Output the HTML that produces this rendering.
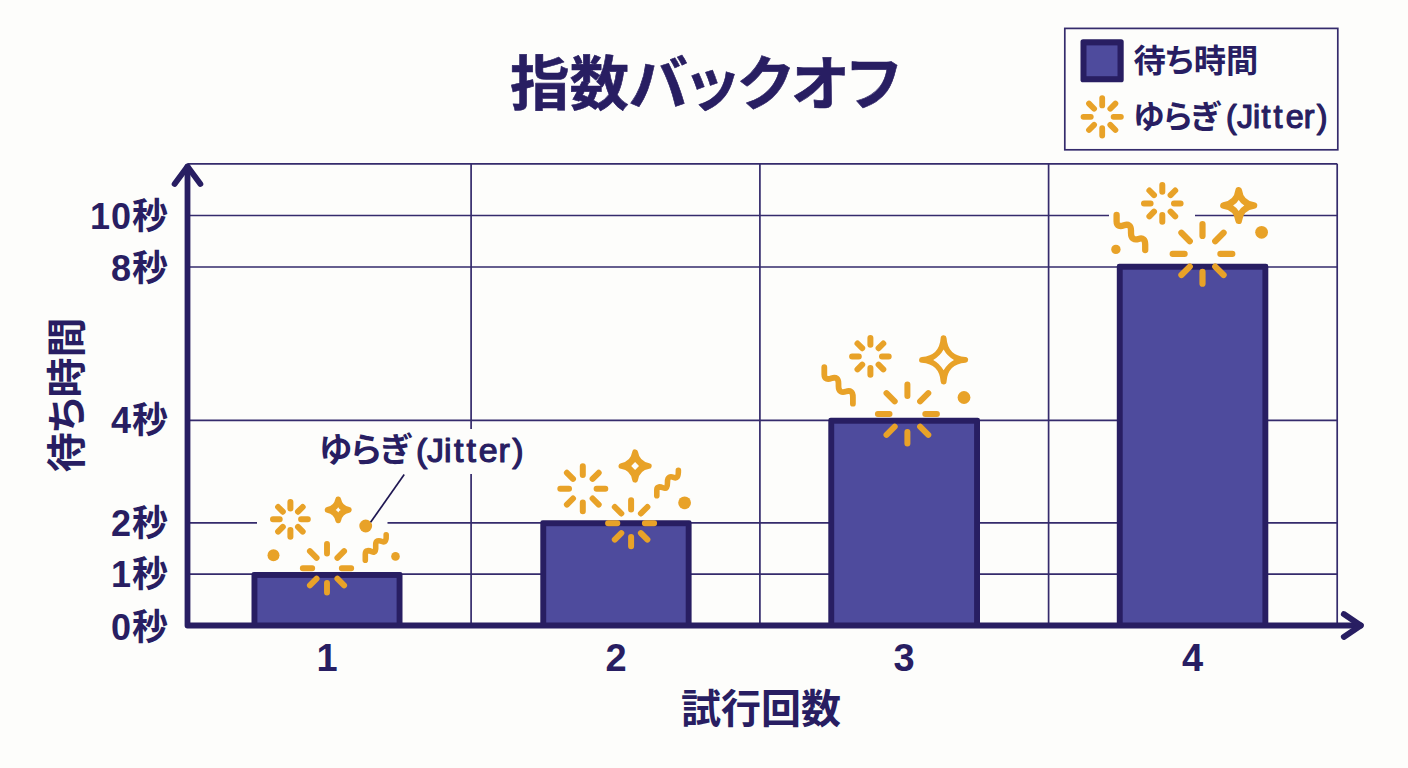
<!DOCTYPE html>
<html lang="ja"><head><meta charset="utf-8"><title>指数バックオフ</title>
<style>html,body{margin:0;padding:0;background:#fdfdfb;}body{width:1408px;height:768px;overflow:hidden;}svg text{font-family:"Liberation Sans", "Noto Sans CJK JP", sans-serif;}svg text.palt{font-feature-settings:"palt";}svg .med{stroke-width:1.2px;stroke-linejoin:round;font-weight:400;}</style>
</head><body>
<svg width="1408" height="768" viewBox="0 0 1408 768" style="display:block">
<rect width="1408" height="768" fill="#fdfdfb"/>
<path d="M187.5 163.8H1337.2M187.5 215.5H1109M1195 215.5H1337.2M187.5 267.0H1337.2M187.5 420.4H1337.2M187.5 522.9H257M387.5 522.9H1337.2M187.5 574.1H1337.2M471.1 163.8V429M471.1 474V625.5M759.9 163.8V625.5M1048.6 163.8V625.5M1337.2 163.8V625.5" stroke="#352b6c" stroke-width="1.7" fill="none"/>
<path d="M251.5 625.5V574.4Q251.5 572.0 253.9 572.0H400.1Q402.5 572.0 402.5 574.4V625.5Z" fill="#281e62"/>
<rect x="257.40" y="577.90" width="139.20" height="47.60" fill="#4e4b9d"/>
<path d="M540.3 625.5V522.7Q540.3 520.3 542.7 520.3H689.2Q691.6 520.3 691.6 522.7V625.5Z" fill="#281e62"/>
<rect x="546.20" y="526.20" width="139.50" height="99.30" fill="#4e4b9d"/>
<path d="M828.3 625.5V420.2Q828.3 417.8 830.7 417.8H977.6Q980.0 417.8 980.0 420.2V625.5Z" fill="#281e62"/>
<rect x="834.20" y="423.70" width="139.90" height="201.80" fill="#4e4b9d"/>
<path d="M1116.8 625.5V266.2Q1116.8 263.8 1119.2 263.8H1265.9Q1268.3 263.8 1268.3 266.2V625.5Z" fill="#281e62"/>
<rect x="1122.70" y="269.70" width="139.70" height="355.80" fill="#4e4b9d"/>
<path d="M187.5 166.6V625.5H1360.8" stroke="#281e62" stroke-width="5.8" fill="none" stroke-linecap="round" stroke-linejoin="round"/>
<path d="M174.6 184L187.5 166.6L200.4 184" stroke="#281e62" stroke-width="5.8" fill="none" stroke-linecap="round" stroke-linejoin="round"/>
<path d="M1343.8 614L1360.8 625.5L1343.8 637" stroke="#281e62" stroke-width="5.8" fill="none" stroke-linecap="round" stroke-linejoin="round"/>
<path d="M301.1 519.3L307.8 519.3M298.0 526.9L302.7 531.6M290.4 530.0L290.4 536.7M282.8 526.9L278.1 531.6M279.7 519.3L273.0 519.3M282.8 511.7L278.1 507.0M290.4 508.6L290.4 501.9M298.0 511.7L302.7 507.0" stroke="#e8a228" stroke-width="6" stroke-linecap="round" fill="none"/>
<path d="M338.2 499.3Q339.9 508.2 348.8 509.9Q339.9 511.6 338.2 520.4Q336.5 511.6 327.6 509.9Q336.5 508.2 338.2 499.3Z" fill="#e8a228" stroke="#e8a228" stroke-width="5.7" stroke-linejoin="round"/><path d="M338.2 507.3Q339.0 509.1 340.8 509.9Q339.0 510.7 338.2 512.5Q337.4 510.7 335.6 509.9Q337.4 509.1 338.2 507.3Z" fill="#fdfdfb"/>
<circle cx="365.7" cy="526.0" r="6.4" fill="#e8a228"/>
<circle cx="273.5" cy="555.2" r="6" fill="#e8a228"/>
<circle cx="395.5" cy="556.4" r="4.3" fill="#e8a228"/>
<path d="M365.3 560.2V554C365.3 549.5 369 550.3 372 551.8C375.5 553.5 376 550 375.7 545.5C375.4 540 379 540.2 382 541.5C385.5 543 386.5 540 386.2 534.8" stroke="#e8a228" stroke-width="5.6" stroke-linecap="round" stroke-linejoin="round" fill="none"/>
<path d="M341.8 568.3L351.2 568.3M337.4 578.7L344.1 585.4M327.0 583.0L327.0 592.5M316.6 578.7L309.9 585.4M312.2 568.3L302.8 568.3M316.6 557.9L309.9 551.2M327.0 553.5L327.0 544.0M337.4 557.9L344.1 551.2" stroke="#e8a228" stroke-width="5.9" stroke-linecap="round" fill="none"/>
<path d="M596.6 488.7L605.3 488.7M592.6 498.5L598.7 504.6M582.8 502.5L582.8 511.2M573.0 498.5L566.9 504.6M569.0 488.7L560.3 488.7M573.0 478.9L566.9 472.8M582.8 474.9L582.8 466.2M592.6 478.9L598.7 472.8" stroke="#e8a228" stroke-width="6" stroke-linecap="round" fill="none"/>
<path d="M635.1 452.3Q637.0 464.1 648.8 466.0Q637.0 467.9 635.1 479.7Q633.2 467.9 621.4 466.0Q633.2 464.1 635.1 452.3Z" fill="#e8a228" stroke="#e8a228" stroke-width="5.8" stroke-linejoin="round"/><path d="M635.1 462.1Q637.1 464.1 639.0 466.0Q637.1 467.9 635.1 469.9Q633.1 467.9 631.2 466.0Q633.1 464.1 635.1 462.1Z" fill="#fdfdfb"/>
<circle cx="684.6" cy="502.8" r="6.4" fill="#e8a228"/>
<path d="M656.8 495.8V490C656.8 486 660 486.5 663 487.8C666.5 489.3 667.6 487 667.5 482C667.4 476.5 670.5 476.2 673.5 477.4C677 478.8 678.5 477 678.4 470.4" stroke="#e8a228" stroke-width="5.6" stroke-linecap="round" stroke-linejoin="round" fill="none"/>
<path d="M644.9 523.3L654.1 523.3M640.9 533.1L647.4 539.6M631.1 537.1L631.1 546.3M621.3 533.1L614.8 539.6M617.3 523.3L608.1 523.3M621.3 513.5L614.8 507.0M631.1 509.5L631.1 500.3M640.9 513.5L647.4 507.0" stroke="#e8a228" stroke-width="6" stroke-linecap="round" fill="none"/>
<path d="M882.0 356.4L888.7 356.4M878.6 364.6L883.3 369.3M870.4 368.0L870.4 374.7M862.2 364.6L857.5 369.3M858.8 356.4L852.1 356.4M862.2 348.2L857.5 343.5M870.4 344.8L870.4 338.1M878.6 348.2L883.3 343.5" stroke="#e8a228" stroke-width="6" stroke-linecap="round" fill="none"/>
<path d="M943.6 338.2Q945.0 358.5 965.2 359.9Q945.0 361.3 943.6 381.5Q942.2 361.3 922.0 359.9Q942.2 358.5 943.6 338.2Z" fill="#e8a228" stroke="#e8a228" stroke-width="5.9" stroke-linejoin="round"/><path d="M943.6 349.5Q947.3 356.2 954.0 359.9Q947.3 363.6 943.6 370.3Q939.9 363.6 933.2 359.9Q939.9 356.2 943.6 349.5Z" fill="#fdfdfb"/>
<circle cx="964" cy="397.5" r="6.4" fill="#e8a228"/>
<path d="M824.3 367.2V374.5C824.3 379.5 828 379.6 831.5 378.3C836 376.8 838.5 378.5 838.5 383.5V386C838.5 392 842 392.8 846 391.5C850.5 390 852.9 392 852.9 397V403.7" stroke="#e8a228" stroke-width="5.8" stroke-linecap="round" stroke-linejoin="round" fill="none"/>
<path d="M925.3 414.0L936.9 414.0M920.1 426.7L928.3 434.9M907.4 431.9L907.4 443.5M894.7 426.7L886.5 434.9M889.5 414.0L877.9 414.0M894.7 401.3L886.5 393.1M907.4 396.1L907.4 384.5M920.1 401.3L928.3 393.1" stroke="#e8a228" stroke-width="6" stroke-linecap="round" fill="none"/>
<path d="M1174.0 203.4L1180.6 203.4M1170.6 211.7L1175.2 216.3M1162.3 215.1L1162.3 221.7M1154.0 211.7L1149.4 216.3M1150.6 203.4L1144.0 203.4M1154.0 195.1L1149.4 190.5M1162.3 191.7L1162.3 185.1M1170.6 195.1L1175.2 190.5" stroke="#e8a228" stroke-width="6" stroke-linecap="round" fill="none"/>
<path d="M1238.7 190.2Q1240.4 203.8 1254.0 205.5Q1240.4 207.2 1238.7 220.8Q1237.0 207.2 1223.4 205.5Q1237.0 203.8 1238.7 190.2Z" fill="#e8a228" stroke="#e8a228" stroke-width="6.6" stroke-linejoin="round"/><path d="M1238.7 199.9Q1240.8 203.4 1244.3 205.5Q1240.8 207.6 1238.7 211.1Q1236.6 207.6 1233.1 205.5Q1236.6 203.4 1238.7 199.9Z" fill="#fdfdfb"/>
<circle cx="1261.6" cy="232.3" r="6.4" fill="#e8a228"/>
<circle cx="1115.9" cy="249.4" r="4.7" fill="#e8a228"/>
<path d="M1116.6 215V221.5C1116.6 226.5 1120.5 226.6 1124 225.3C1128.5 223.8 1131 225.5 1131 230.5V233C1131 239 1134.5 240.2 1138.5 238.9C1143 237.4 1145.2 239.5 1145.2 244.5V250.1" stroke="#e8a228" stroke-width="6.3" stroke-linecap="round" stroke-linejoin="round" fill="none"/>
<path d="M1220.4 253.9L1232.3 253.9M1215.2 266.6L1223.6 275.0M1202.5 271.8L1202.5 283.7M1189.8 266.6L1181.4 275.0M1184.6 253.9L1172.7 253.9M1189.8 241.2L1181.4 232.8M1202.5 236.0L1202.5 224.1M1215.2 241.2L1223.6 232.8" stroke="#e8a228" stroke-width="6.2" stroke-linecap="round" fill="none"/>
<rect x="1064.8" y="28.4" width="273" height="121.4" fill="#fdfdfb" stroke="#352b6c" stroke-width="1.7"/>
<rect x="1080.5" y="39.2" width="43.2" height="43.1" rx="2.6" fill="#281e62"/>
<rect x="1086.5" y="45.4" width="31" height="30.8" fill="#4e4b9d"/>
<path d="M1113.6 116.8L1120.9 116.8M1110.3 124.9L1115.4 130.0M1102.2 128.2L1102.2 135.5M1094.1 124.9L1089.0 130.0M1090.8 116.8L1083.5 116.8M1094.1 108.7L1089.0 103.6M1102.2 105.4L1102.2 98.1M1110.3 108.7L1115.4 103.6" stroke="#e8a228" stroke-width="5.8" stroke-linecap="round" fill="none"/>
<text class="palt" x="1133.4" y="72.3" font-size="32.3" font-weight="700" fill="#281e62">待ち時間</text>
<text class="palt" x="1133" y="127.8" font-size="32.3" fill="#281e62"><tspan font-weight="700" letter-spacing="-1.2">ゆらぎ</tspan><tspan class="med" dx="7.1 -1 -1.5 0.3 1.6 2.1 -1.1 1.1" letter-spacing="1.2" stroke="#281e62">(Jitter)</tspan></text>
<path d="M404.2 474.6L370.6 522.3" stroke="#1f1752" stroke-width="1.7"/>
<text class="palt" x="319" y="461.7" font-size="34" fill="#281e62"><tspan font-weight="700" letter-spacing="-1.2">ゆらぎ</tspan><tspan class="med" dx="6.2 -1.8 -1.3 0.85 1.5 1.25 -0.7 0.9" letter-spacing="1.5" stroke="#281e62">(Jitter)</tspan></text>
<text x="510" y="105" font-size="59.5" font-weight="700" class="palt" fill="#281e62" stroke="#281e62" stroke-width="0.6" stroke-linejoin="round">指数バックオフ</text>
<text x="169" y="228.7" font-size="36" font-weight="700" letter-spacing="1" text-anchor="end" fill="#281e62">10秒</text>
<text x="169" y="280.8" font-size="36" font-weight="700" letter-spacing="1" text-anchor="end" fill="#281e62">8秒</text>
<text x="169" y="433.4" font-size="36" font-weight="700" letter-spacing="1" text-anchor="end" fill="#281e62">4秒</text>
<text x="169" y="535.5" font-size="36" font-weight="700" letter-spacing="1" text-anchor="end" fill="#281e62">2秒</text>
<text x="169" y="587.1" font-size="36" font-weight="700" letter-spacing="1" text-anchor="end" fill="#281e62">1秒</text>
<text x="169" y="639.5" font-size="36" font-weight="700" letter-spacing="1" text-anchor="end" fill="#281e62">0秒</text>
<text x="327.0" y="671" font-size="38" font-weight="700" text-anchor="middle" fill="#281e62">1</text>
<text x="616.0" y="671" font-size="38" font-weight="700" text-anchor="middle" fill="#281e62">2</text>
<text x="904.1" y="671" font-size="38" font-weight="700" text-anchor="middle" fill="#281e62">3</text>
<text x="1192.5" y="671" font-size="38" font-weight="700" text-anchor="middle" fill="#281e62">4</text>
<text x="761" y="722.7" font-size="40" font-weight="700" text-anchor="middle" fill="#281e62">試行回数</text>
<text class="palt" transform="translate(81.4 394.8) rotate(-90)" font-size="40" font-weight="700" text-anchor="middle" fill="#281e62">待ち時間</text>
</svg>
</body></html>
